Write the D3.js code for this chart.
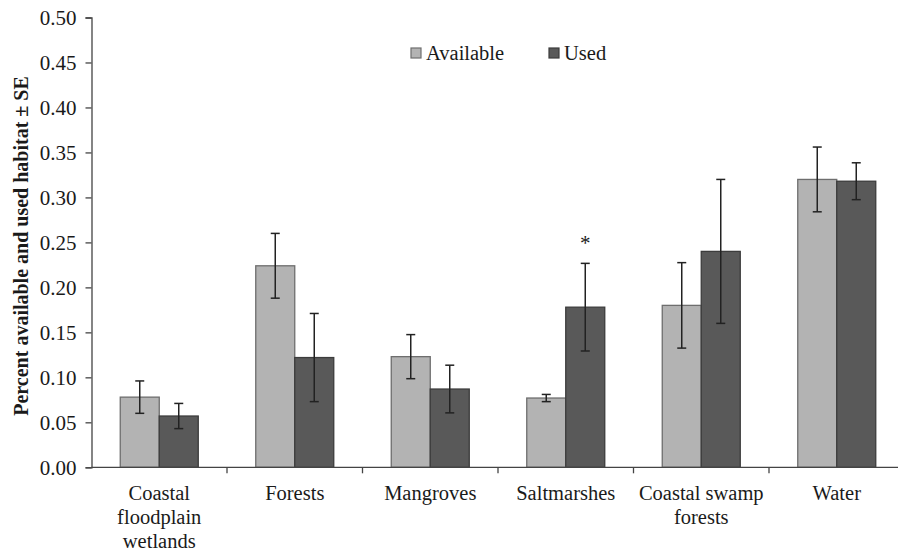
<!DOCTYPE html>
<html>
<head>
<meta charset="utf-8">
<script src="https://cdn.jsdelivr.net/npm/d3@7"></script>
</head>
<body style="margin:0">
<svg id="chart" width="898" height="552" font-family="Liberation Serif"></svg>
<script>
// Habitat categories (multi-line labels split on "\n")
const categories = [
  "Coastal\nfloodplain\nwetlands",
  "Forests",
  "Mangroves",
  "Saltmarshes",
  "Coastal swamp\nforests",
  "Water"
];
const seriesNames = ["Available", "Used"];
const availableMean = [0.078, 0.224, 0.123, 0.077, 0.180, 0.320];
const availableSE   = [0.018, 0.036, 0.0245, 0.004, 0.0475, 0.036];
const usedMean      = [0.057, 0.122, 0.087, 0.178, 0.240, 0.318];
const usedSE        = [0.014, 0.049, 0.0265, 0.0487, 0.080, 0.0205];
const significant   = [false, false, false, true, false, false];
const yTicks = [0, 0.05, 0.10, 0.15, 0.20, 0.25, 0.30, 0.35, 0.40, 0.45, 0.50];

const fills   = { Available: "#b3b3b3", Used: "#595959" };
const strokes = { Available: "#6e6e6e", Used: "#3c3c3c" };
const FONT = "Liberation Serif";

const svg = d3.select("#chart");
const plotLeft = 91.5, plotRight = 904.5, plotTop = 17.5, plotBottom = 467.3;

const x = d3.scaleBand().domain(categories).range([plotLeft, plotRight]).paddingInner(0).paddingOuter(0);
const xSub = d3.scaleBand().domain(seriesNames).range([0, x.bandwidth()]).paddingInner(0).paddingOuter(0.737);
const y = d3.scaleLinear().domain([0, 0.5]).range([plotBottom, plotTop]);

const rows = categories.map((c, i) => ({
  cat: c,
  sig: significant[i],
  vals: [
    { key: "Available", mean: availableMean[i], se: availableSE[i] },
    { key: "Used", mean: usedMean[i], se: usedSE[i] }
  ]
}));

// Y axis
const yAxis = svg.append("g")
  .attr("transform", `translate(${plotLeft},0)`)
  .call(d3.axisLeft(y).tickValues(yTicks).tickFormat(d3.format(".2f")).tickSizeOuter(0).tickSize(6).tickPadding(9));
yAxis.attr("font-family", FONT).attr("font-size", 21);
yAxis.selectAll("text").attr("font-family", FONT).attr("font-size", 21).attr("fill", "#1a1a1a");
yAxis.selectAll("line, path").attr("stroke", "#444").attr("stroke-width", 1.3);

// Groups and bars
const groups = svg.append("g").selectAll("g").data(rows).join("g")
  .attr("transform", d => `translate(${x(d.cat)},0)`);

groups.selectAll("rect").data(d => d.vals).join("rect")
  .attr("x", d => xSub(d.key))
  .attr("y", d => y(d.mean))
  .attr("width", xSub.bandwidth())
  .attr("height", d => y(0) - y(d.mean))
  .attr("fill", d => fills[d.key])
  .attr("stroke", d => strokes[d.key])
  .attr("stroke-width", 1.3);

// Error bars (mean ± SE)
const cap = 4.5;
const eb = groups.selectAll("g.err").data(d => d.vals).join("g").attr("class", "err")
  .attr("stroke", "#222").attr("stroke-width", 1.5);
eb.append("line")
  .attr("x1", d => xSub(d.key) + xSub.bandwidth() / 2)
  .attr("x2", d => xSub(d.key) + xSub.bandwidth() / 2)
  .attr("y1", d => y(d.mean + d.se))
  .attr("y2", d => y(d.mean - d.se));
eb.append("line")
  .attr("x1", d => xSub(d.key) + xSub.bandwidth() / 2 - cap)
  .attr("x2", d => xSub(d.key) + xSub.bandwidth() / 2 + cap)
  .attr("y1", d => y(d.mean + d.se))
  .attr("y2", d => y(d.mean + d.se));
eb.append("line")
  .attr("x1", d => xSub(d.key) + xSub.bandwidth() / 2 - cap)
  .attr("x2", d => xSub(d.key) + xSub.bandwidth() / 2 + cap)
  .attr("y1", d => y(d.mean - d.se))
  .attr("y2", d => y(d.mean - d.se));

// Significance marker above the Used bar
groups.filter(d => d.sig).append("text")
  .attr("x", xSub("Used") + xSub.bandwidth() / 2)
  .attr("y", d => y(d.vals[1].mean + d.vals[1].se) - 13)
  .attr("text-anchor", "middle")
  .attr("font-family", FONT).attr("font-size", 21)
  .attr("fill", "#1a1a1a")
  .text("*");

// X axis: ticks at category boundaries
const xAxisG = svg.append("g").attr("transform", `translate(0,${plotBottom})`);
xAxisG.append("line").attr("x1", plotLeft).attr("x2", plotRight).attr("y1", 0).attr("y2", 0)
  .attr("stroke", "#444").attr("stroke-width", 1.3);
const boundaries = categories.slice(1).map(c => x(c));
xAxisG.selectAll("line.tick").data(boundaries).join("line").attr("class", "tick")
  .attr("x1", d => d).attr("x2", d => d).attr("y1", 0).attr("y2", 6)
  .attr("stroke", "#444").attr("stroke-width", 1.3);

// Category labels, one text element per line
const labelLines = categories.flatMap(c => c.split("\n").map((line, i) => ({ cat: c, line, i })));
xAxisG.selectAll("text").data(labelLines).join("text")
  .attr("x", d => x(d.cat) + x.bandwidth() / 2)
  .attr("y", d => 33 + d.i * 24)
  .attr("text-anchor", "middle")
  .attr("font-family", FONT).attr("font-size", 20.5)
  .attr("fill", "#1a1a1a")
  .text(d => d.line);

// Y axis title
svg.append("text")
  .attr("transform", "translate(28,246) rotate(-90)")
  .attr("text-anchor", "middle")
  .attr("font-family", FONT).attr("font-size", 20).attr("font-weight", "bold")
  .attr("fill", "#1a1a1a")
  .text("Percent available and used habitat ± SE");

// Legend
const legend = svg.append("g");
const legendItems = [
  { key: "Available", sx: 411, tx: 426 },
  { key: "Used", sx: 549, tx: 564 }
];
legend.selectAll("rect").data(legendItems).join("rect")
  .attr("x", d => d.sx).attr("y", 48).attr("width", 10).attr("height", 10)
  .attr("fill", d => fills[d.key]).attr("stroke", d => strokes[d.key]).attr("stroke-width", 1.2);
legend.selectAll("text").data(legendItems).join("text")
  .attr("x", d => d.tx).attr("y", 59.5)
  .attr("font-family", FONT).attr("font-size", 20.5)
  .attr("fill", "#1a1a1a")
  .text(d => d.key);
</script>
</body>
</html>
